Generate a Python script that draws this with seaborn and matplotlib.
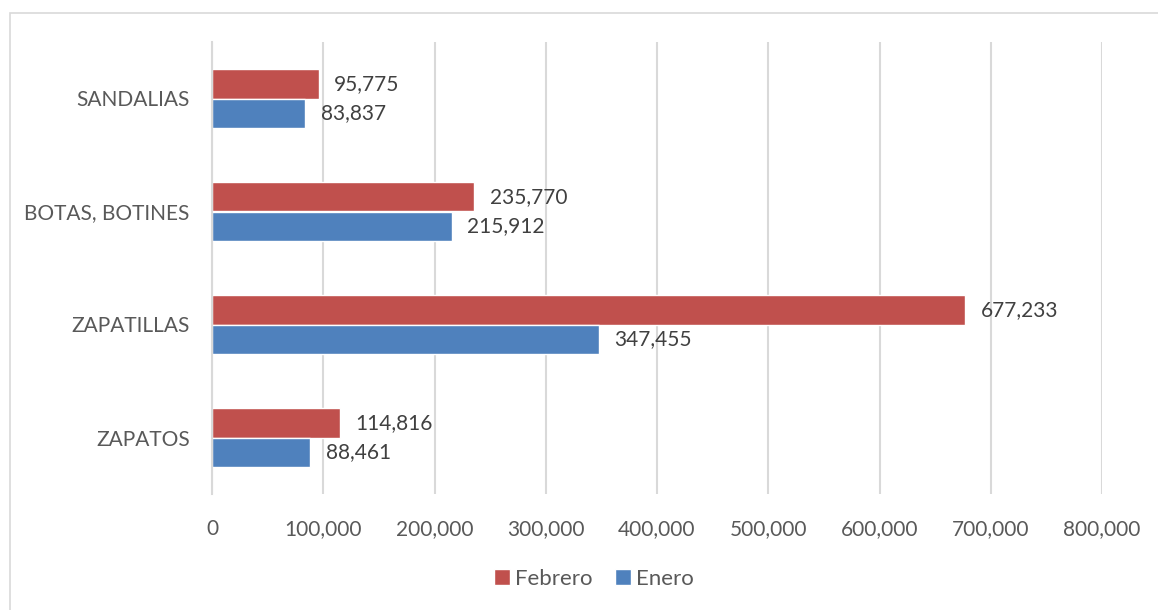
import matplotlib
matplotlib.use("Agg")
import matplotlib.pyplot as plt
import seaborn as sns
import pandas as pd
from matplotlib.patches import Rectangle

categories = ["SANDALIAS", "BOTAS, BOTINES", "ZAPATILLAS", "ZAPATOS"]
febrero = [95775, 235770, 677233, 114816]
enero = [83837, 215912, 347455, 88461]
series_names = ["Febrero", "Enero"]
xticks = [0, 100000, 200000, 300000, 400000, 500000, 600000, 700000, 800000]

df = pd.DataFrame({
    "cat": categories * 2,
    "val": febrero + enero,
    "serie": [series_names[0]] * 4 + [series_names[1]] * 4,
})

sns.set_theme(style="white")
plt.rcParams['font.family'] = ['Lato', 'DejaVu Sans']
txt = "#595959"

fig = plt.figure(figsize=(11.58, 6.10), dpi=100)
ax = fig.add_axes([212/1158, 1-494/610, (1102-212)/1158, (494-42)/610])

sns.barplot(data=df, y="cat", x="val", hue="serie", orient="h",
            order=categories, hue_order=series_names,
            palette=["#C0504D", "#4F81BD"], width=0.515, gap=0,
            saturation=1, ax=ax, legend=True)

ax.set_xlim(0, 800000)
ax.set_xticks(xticks)
ax.set_xticklabels([f"{v:,}" for v in xticks], color=txt, fontsize=15)
ax.tick_params(axis="y", labelsize=15, labelcolor=txt, length=0, pad=16)
ax.tick_params(axis="x", length=0, pad=18)
ax.set_xlabel("")
ax.set_ylabel("")
ax.grid(axis="x", color="#D9D9D9", linewidth=1.5)
ax.set_axisbelow(True)
for s in ["top", "right", "bottom"]:
    ax.spines[s].set_visible(False)
ax.spines["left"].set_color("#D9D9D9")
ax.spines["left"].set_linewidth(1.5)

for cont in ax.containers:
    ax.bar_label(cont, labels=[f"{v:,.0f}" for v in cont.datavalues],
                 padding=11, fontsize=15, color="#404040")

handles, labels = ax.get_legend_handles_labels()
ax.legend_.remove()
fig.legend(handles, labels, loc="center", bbox_to_anchor=(594/1158, 1-579/610),
           ncol=2, frameon=False, fontsize=16, labelcolor=txt,
           handlelength=0.7, handleheight=0.7, handletextpad=0.25,
           columnspacing=1.0)

fig.patches.append(Rectangle((10/1158, -0.1), 1.2, (1 - 13/610) + 0.1,
                             transform=fig.transFigure, fill=False,
                             edgecolor="#D9D9D9", linewidth=1.2))

fig.savefig("out.png", dpi=100)
